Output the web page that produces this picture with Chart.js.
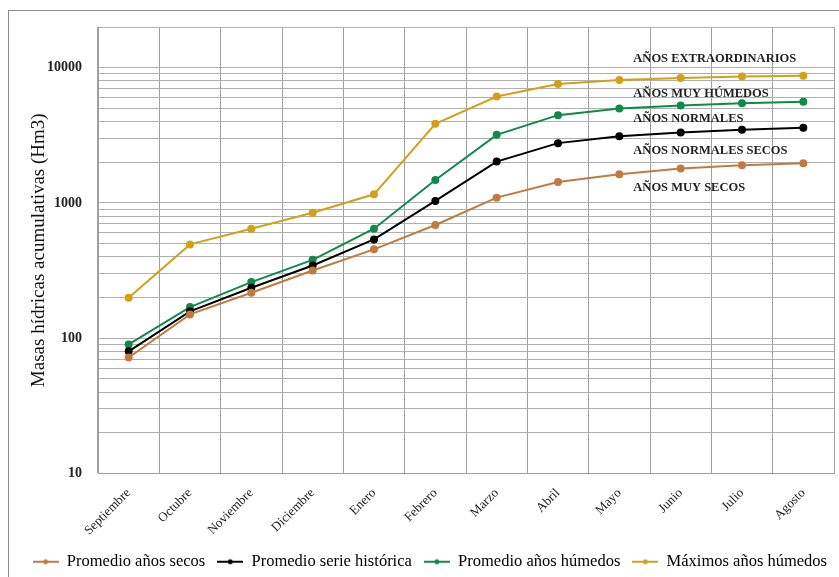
<!DOCTYPE html>
<html>
<head>
<meta charset="utf-8">
<script src="https://cdn.jsdelivr.net/npm/chart.js@4.4.1/dist/chart.umd.min.js"></script>
<style>
  html, body { margin: 0; padding: 0; background: #fff; }
  #wrap { position: relative; width: 839px; height: 577px; }
</style>
</head>
<body>
<div id="wrap"><canvas id="grafico" width="839" height="577"></canvas></div>
<script>
const meses = ['Septiembre', 'Octubre', 'Noviembre', 'Diciembre', 'Enero', 'Febrero', 'Marzo', 'Abril', 'Mayo', 'Junio', 'Julio', 'Agosto'];

const secos = [72, 150, 217, 317, 454, 687, 1095, 1431, 1632, 1796, 1902, 1968];
const historica = [80, 158, 236, 345, 538, 1035, 2024, 2770, 3120, 3320, 3475, 3594];
const humedos = [90, 170, 260, 380, 645, 1480, 3190, 4460, 5000, 5260, 5470, 5600];
const maximos = [199, 494, 645, 848, 1159, 3846, 6128, 7570, 8110, 8390, 8610, 8730];

const etiquetasY = [10, 100, 1000, 10000];

// textos a la derecha, con el valor del eje y donde van
const anotaciones = ['AÑOS EXTRAORDINARIOS', 'AÑOS MUY HÚMEDOS', 'AÑOS NORMALES', 'AÑOS NORMALES SECOS', 'AÑOS MUY SECOS'];
const anotacionesY = [11700, 6410, 4190, 2425, 1290];

const colores = ['#c27a3e', '#000000', '#0e8a4a', '#d4a017'];

function marcaLeyenda(color) {
  const c = document.createElement('canvas');
  c.width = 26; c.height = 8;
  const g = c.getContext('2d');
  g.strokeStyle = color; g.lineWidth = 2;
  g.beginPath(); g.moveTo(0, 4); g.lineTo(26, 4); g.stroke();
  g.fillStyle = color;
  g.beginPath(); g.arc(13, 4, 2.5, 0, Math.PI * 2); g.fill();
  return c;
}

const marco = {
  id: 'marco',
  beforeDraw(chart) {
    const ctx = chart.ctx;
    ctx.save();
    ctx.strokeStyle = '#8c8c8c';
    ctx.lineWidth = 1;
    ctx.strokeRect(8.5, 10.5, 900, 700);
    ctx.restore();
  },
  afterDatasetsDraw(chart) {
    const ctx = chart.ctx;
    const x = chart.scales.x.getPixelForValue(8) + 14;
    ctx.save();
    ctx.font = 'bold 12.5px "Liberation Serif", serif';
    ctx.fillStyle = '#222';
    ctx.textBaseline = 'middle';
    anotaciones.forEach((t, i) => {
      ctx.fillText(t, x, chart.scales.y.getPixelForValue(anotacionesY[i]));
    });
    ctx.restore();
  }
};

const serie = (label, data, color) => ({
  label: label,
  data: data,
  borderColor: color,
  backgroundColor: color,
  borderWidth: 2,
  pointRadius: 3,
  pointHoverRadius: 3,
  tension: 0
});

new Chart(document.getElementById('grafico'), {
  type: 'line',
  data: {
    labels: meses,
    datasets: [
      serie('Promedio años secos', secos, colores[0]),
      serie('Promedio serie histórica', historica, colores[1]),
      serie('Promedio años húmedos', humedos, colores[2]),
      serie('Máximos años húmedos', maximos, colores[3])
    ]
  },
  options: {
    responsive: false,
    animation: false,
    layout: { padding: { left: 0, right: 0, top: 27, bottom: -3 } },
    plugins: {
      tooltip: { enabled: false },
      legend: {
        position: 'bottom',
        align: 'end',
        labels: {
          usePointStyle: true,
          pointStyleWidth: 26,
          boxHeight: 8,
          padding: 12,
          color: '#111',
          font: { family: '"Liberation Serif", serif', size: 16.5 },
          generateLabels(chart) {
            return chart.data.datasets.map((d, i) => ({
              text: d.label,
              pointStyle: marcaLeyenda(d.borderColor),
              fillStyle: d.borderColor,
              strokeStyle: d.borderColor,
              lineWidth: 0,
              hidden: false,
              datasetIndex: i
            }));
          }
        }
      }
    },
    scales: {
      x: {
        offset: true,
        grid: { offset: true, color: '#a0a0a0', lineWidth: 1, drawTicks: false },
        border: { color: '#a0a0a0' },
        ticks: {
          maxRotation: 45,
          minRotation: 45,
          padding: 12,
          color: '#222',
          font: { family: '"Liberation Serif", serif', size: 13 }
        },
        afterFit(s) { s.height = 68; }
      },
      y: {
        type: 'logarithmic',
        min: 10,
        max: 20000,
        grid: { color: '#b0b0b0', lineWidth: 1, drawTicks: false },
        border: { color: '#a0a0a0' },
        afterBuildTicks(s) {
          const t = [];
          etiquetasY.forEach(base => {
            for (let k = 1; k <= 9; k++) {
              if (base * k <= 20000) t.push({ value: base * k });
            }
          });
          t.push({ value: 20000 });
          s.ticks = t;
        },
        ticks: {
          autoSkip: false,
          padding: 16,
          color: '#222',
          font: { family: '"Liberation Serif", serif', size: 14, weight: 'bold' },
          callback: v => etiquetasY.includes(v) ? String(v) : ''
        },
        title: {
          display: true,
          text: 'Masas hídricas acumulativas (Hm3)',
          color: '#111',
          font: { family: '"Liberation Serif", serif', size: 19 },
          padding: { top: 28, bottom: 6 }
        },
        afterFit(s) { s.width = 98; }
      }
    }
  },
  plugins: [marco]
});
</script>
</body>
</html>
